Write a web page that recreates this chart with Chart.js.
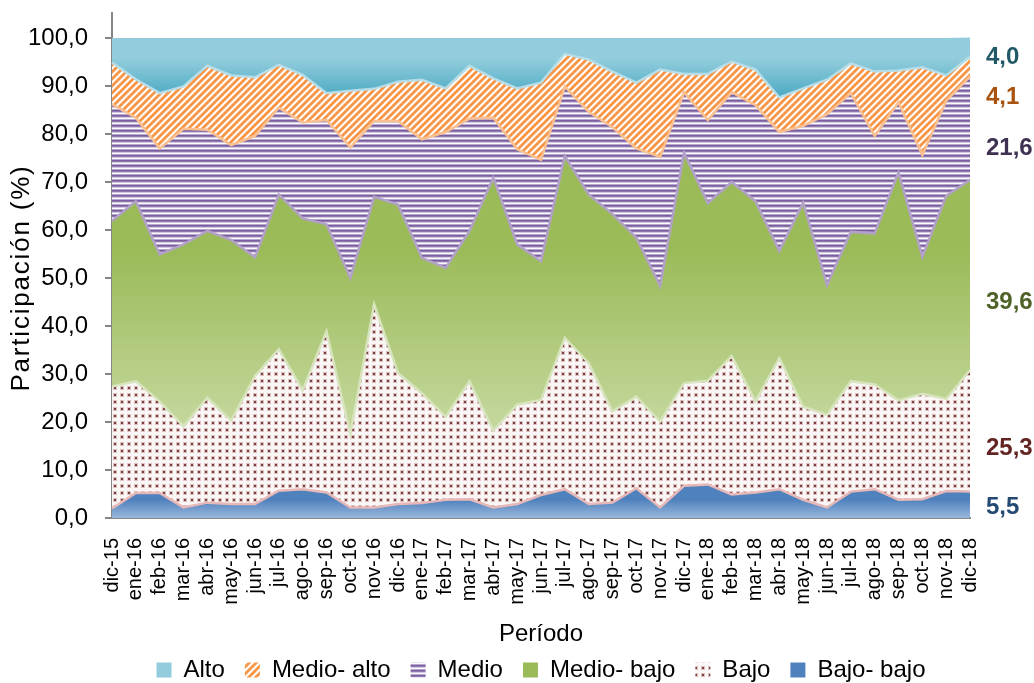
<!DOCTYPE html>
<html>
<head>
<meta charset="utf-8">
<title>Participación por nivel</title>
<script src="https://cdn.jsdelivr.net/npm/chart.js@4.4.1/dist/chart.umd.min.js"></script>
<style>
  html, body { margin: 0; padding: 0; background: #fff; }
  #wrap { width: 1034px; height: 683px; }
</style>
</head>
<body>
<div id="wrap"><canvas id="chart" width="1034" height="683"></canvas></div>
<script>
// --- datos (%) por período, de abajo hacia arriba en la pila ---
const periodos = [
  'dic-15',
  'ene-16', 'feb-16', 'mar-16', 'abr-16', 'may-16', 'jun-16', 'jul-16', 'ago-16', 'sep-16', 'oct-16', 'nov-16', 'dic-16',
  'ene-17', 'feb-17', 'mar-17', 'abr-17', 'may-17', 'jun-17', 'jul-17', 'ago-17', 'sep-17', 'oct-17', 'nov-17', 'dic-17',
  'ene-18', 'feb-18', 'mar-18', 'abr-18', 'may-18', 'jun-18', 'jul-18', 'ago-18', 'sep-18', 'oct-18', 'nov-18', 'dic-18'
];
const bajoBajo = [2.0, 5.2, 5.2, 2.2, 3.2, 2.9, 2.9, 5.7, 6.0, 5.3, 2.2, 2.2, 2.9, 3.1, 3.8, 3.9, 2.2, 2.9, 4.8,
  6.0, 2.9, 3.2, 6.2, 2.2, 6.7, 7.0, 4.9, 5.3, 6.0, 3.8, 2.2, 5.5, 6.0, 3.8, 3.9, 5.6, 5.5];
const bajo = [25.4, 23.3, 19.1, 16.9, 21.9, 17.4, 26.7, 29.5, 20.6, 33.6, 15.3, 42.3, 27.3, 22.9, 17.3, 24.6, 16.0,
  20.7, 19.8, 31.5, 29.4, 19.0, 19.1, 17.9, 21.4, 21.6, 28.8, 19.0, 27.3, 19.4, 19.3, 23.0, 21.8, 20.7, 22.0, 19.2, 25.3];
const medioBajo = [34.5, 37.5, 30.6, 37.9, 34.7, 37.6, 24.7, 32.2, 35.8, 22.3, 32.5, 22.4, 35.1, 28.2, 31.0, 31.3,
  52.7, 33.4, 28.9, 37.9, 35.1, 41.1, 33.1, 28.2, 48.0, 37.0, 36.3, 41.7, 22.3, 42.5, 27.0, 31.1, 31.5, 47.5, 28.5, 42.3, 39.6];
const medio = [24.3, 17.4, 22.1, 24.1, 21.1, 19.8, 25.3, 18.1, 20.0, 21.7, 27.2, 15.8, 17.4, 24.7, 28.3, 23.4, 12.5,
  19.8, 21.1, 14.5, 17.2, 18.1, 18.6, 26.9, 12.6, 17.3, 18.7, 20.0, 24.8, 16.0, 35.6, 28.9, 20.3, 14.6, 21.2, 19.8, 21.6];
const medioAlto = [8.7, 8.0, 11.5, 8.8, 13.3, 14.5, 12.2, 8.9, 9.9, 5.6, 11.8, 6.7, 8.2, 12.4, 9.1, 11.0, 8.2, 12.7,
  16.1, 6.8, 10.9, 11.6, 13.7, 18.2, 3.8, 9.6, 6.4, 7.4, 7.2, 7.8, 7.2, 6.2, 13.4, 6.6, 18.3, 5.3, 4.1];
const alto = [5.1, 8.6, 11.5, 10.1, 5.8, 7.8, 8.2, 5.6, 7.7, 11.5, 11.0, 10.6, 9.1, 8.7, 10.5, 5.8, 8.4, 10.5, 9.3,
  3.3, 4.5, 7.0, 9.3, 6.6, 7.5, 7.5, 4.9, 6.6, 12.4, 10.5, 8.7, 5.3, 7.0, 6.8, 6.1, 7.8, 4.0];
const nombres = ['Bajo- bajo', 'Bajo', 'Medio- bajo', 'Medio', 'Medio- alto', 'Alto'];
const yTicks = [0, 10, 20, 30, 40, 50, 60, 70, 80, 90, 100];

const series = [bajoBajo, bajo, medioBajo, medio, medioAlto, alto];
const FONT = "'Liberation Sans', Arial, sans-serif";
const fmt = v => v.toFixed(1).replace('.', ',');

// acumulado de la pila hasta la serie k
function stackAt(k, i) {
  let s = 0;
  for (let j = 0; j <= k; j++) s += series[j][i];
  return s;
}
// rango vertical (max superior, min inferior) que ocupa la banda k
function bandRange(k) {
  const tops = periodos.map((_, i) => stackAt(k, i));
  const bottoms = k === 0 ? [0] : periodos.map((_, i) => stackAt(k - 1, i));
  return [Math.max(...tops), Math.min(...bottoms)];
}

function makePattern(w, h, paint) {
  const c = document.createElement('canvas');
  c.width = w; c.height = h;
  const g = c.getContext('2d');
  paint(g);
  return g.createPattern(c, 'repeat');
}

// rayado horizontal violeta
const medioFill = makePattern(5, 5, g => {
  ['#7b5e9e', '#9079b1', '#d2c8e0', '#fbfafd', '#b7a8cf'].forEach((col, i) => {
    g.fillStyle = col; g.fillRect(0, i, 5, 1);
  });
});
// rayado diagonal naranja
const medioAltoFill = makePattern(7, 7, g => {
  for (let y = 0; y < 7; y++) {
    for (let x = 0; x < 7; x++) {
      const d = (x + y) % 7;
      g.fillStyle = d < 3 ? '#f79646' : (d === 3 || d === 6) ? '#fbc89f' : '#ffffff';
      g.fillRect(x, y, 1, 1);
    }
  }
});
// punteado granate
const bajoFill = makePattern(7, 7, g => {
  g.fillStyle = '#fbf6f6'; g.fillRect(0, 0, 7, 7);
  g.fillStyle = '#dcbfbf'; g.fillRect(1, 1, 4, 4);
  g.fillStyle = '#774141'; g.fillRect(2, 2, 2, 2);
});

function bandGradient(k, stops) {
  return c => {
    const chart = c.chart;
    if (!chart.chartArea || !chart.scales.y) return stops[0][1];
    const [hi, lo] = bandRange(k);
    const y = chart.scales.y;
    const g = chart.ctx.createLinearGradient(0, y.getPixelForValue(hi), 0, y.getPixelForValue(lo));
    stops.forEach(([o, col]) => g.addColorStop(o, col));
    return g;
  };
}

const fills = [
  bandGradient(0, [[0, '#4f81bd'], [0.45, '#4f81bd'], [1, '#9ab7dc']]),
  bajoFill,
  bandGradient(2, [[0, '#9bbb59'], [0.35, '#9bbb59'], [1, '#c6d9a0']]),
  medioFill,
  medioAltoFill,
  bandGradient(5, [[0, '#93cddd'], [0.35, '#93cddd'], [1, '#4aa9c2']])
];
const legendFills = ['#4f81bd', bajoFill, '#9bbb59', medioFill, medioAltoFill, '#93cddd'];
// borde de cada banda: tono claro de la serie que queda encima
const borders = ['#e6b9b8', '#d7e4bd', '#b3a2c7', '#fac090', '#b7dee8', 'rgba(0,0,0,0)'];
const valueColors = ['#244a74', '#632523', '#4f6228', '#3f3151', '#a9530f', '#215968'];
const valueLabelY = [2.3, 14.6, 45.0, 77.1, 87.6, 96.0];

const datasets = series.map((data, k) => ({
  label: nombres[k],
  data,
  fill: k === 0 ? 'origin' : '-1',
  backgroundColor: fills[k],
  borderColor: borders[k],
  borderWidth: k === 5 ? 0 : 2.5,
  pointRadius: 0,
  tension: 0
}));

// valor del último período a la derecha de cada banda
const lastValues = {
  id: 'lastValues',
  afterDraw(chart) {
    const { ctx, scales: { y } } = chart;
    ctx.save();
    ctx.font = 'bold 24px ' + FONT;
    ctx.textAlign = 'left';
    ctx.textBaseline = 'middle';
    series.forEach((data, k) => {
      ctx.fillStyle = valueColors[k];
      ctx.fillText(fmt(data[data.length - 1]), 986, y.getPixelForValue(valueLabelY[k]));
    });
    ctx.restore();
  }
};

// título del eje Y centrado sobre el rango 0-100
const yTitle = {
  id: 'yTitle',
  afterDraw(chart) {
    const { ctx, scales: { y } } = chart;
    const mid = (y.getPixelForValue(0) + y.getPixelForValue(100)) / 2;
    ctx.save();
    ctx.translate(22, mid);
    ctx.rotate(-Math.PI / 2);
    ctx.font = '26px ' + FONT;
    ctx.letterSpacing = '1.8px';
    ctx.fillStyle = '#000';
    ctx.textAlign = 'center';
    ctx.textBaseline = 'middle';
    ctx.fillText('Participación (%)', 0, 0);
    ctx.restore();
  }
};

new Chart(document.getElementById('chart').getContext('2d'), {
  type: 'line',
  data: { labels: periodos, datasets },
  options: {
    responsive: false,
    animation: false,
    events: [],
    layout: { padding: { top: 13, right: 64, left: 0, bottom: -9 } },
    plugins: {
      tooltip: { enabled: false },
      legend: {
        position: 'bottom',
        fullSize: false,
        reverse: true,
        labels: {
          boxWidth: 15,
          boxHeight: 15,
          padding: 20,
          color: '#000',
          font: { family: FONT, size: 24 },
          generateLabels(chart) {
            const items = Chart.defaults.plugins.legend.labels.generateLabels(chart);
            items.forEach(it => {
              it.fillStyle = legendFills[it.datasetIndex];
              it.strokeStyle = 'rgba(0,0,0,0)';
              it.lineWidth = 0;
            });
            return items;
          }
        }
      }
    },
    scales: {
      x: {
        offset: false,
        grid: { display: false, drawTicks: false },
        border: { display: true, color: '#868686', width: 2 },
        ticks: {
          autoSkip: false,
          minRotation: 90,
          maxRotation: 90,
          padding: 20,
          color: '#000',
          font: { family: FONT, size: 20 }
        },
        title: {
          display: true,
          text: 'Período',
          color: '#000',
          font: { family: FONT, size: 24 },
          padding: { top: 0, bottom: -11 }
        },
        afterFit(scale) { scale.height = 120; }
      },
      y: {
        stacked: true,
        min: 0,
        max: 105.2,
        grid: { drawOnChartArea: false, drawTicks: true, tickLength: 7, color: '#868686', lineWidth: 2 },
        border: { display: true, color: '#868686', width: 2 },
        ticks: {
          stepSize: 10,
          padding: 17,
          color: '#000',
          font: { family: FONT, size: 24 },
          callback: v => fmt(v)
        },
        afterBuildTicks(scale) {
          scale.ticks = yTicks.map(value => ({ value }));
        },
        afterFit(scale) {
          scale.width = 112;
          scale.paddingTop = 0;
          scale.paddingBottom = 0;
        }
      }
    }
  },
  plugins: [lastValues, yTitle]
});
</script>
</body>
</html>
